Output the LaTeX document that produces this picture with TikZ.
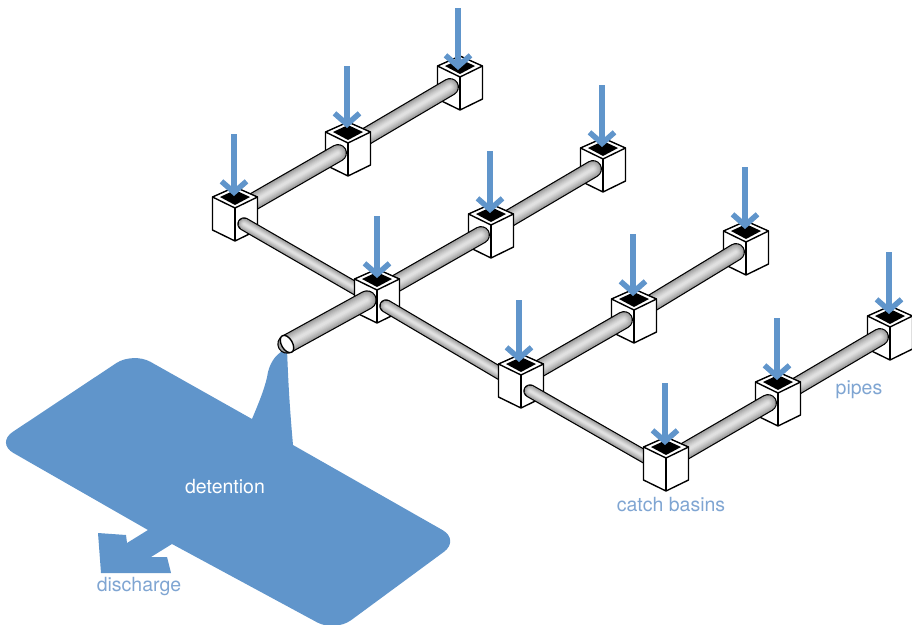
\documentclass[tikz,border=0pt]{standalone}
\usepackage{fontspec}
\setmainfont{TeX Gyre Heros}
\usepackage{xcolor}
\usetikzlibrary{arrows.meta,calc}
\definecolor{poolblue}{HTML}{6095CB}
\definecolor{labelblue}{HTML}{7FA5D2}
\tikzset{
  rim/.style={black,line width=1.4pt,line join=round},
  inflow/.style={poolblue,line width=6.5pt,-{Straight Barb[length=11pt,width=25pt,line width=5.5pt]}},
  caption/.style={labelblue,font=\fontsize{19.5}{22}\selectfont,inner sep=0pt},
}
% one catch basin, #1 is the middle of its top face
\newcommand{\basin}[1]{
  \fill [white] ($(#1)+(-22.5,0)$) -- ($(#1)+(0,-10)$) -- ($(#1)+(22.5,0)$) -- ($(#1)+(22.5,33)$) -- ($(#1)+(0,44)$) -- ($(#1)+(-22.5,33)$) -- cycle;
  \draw [rim] ($(#1)+(-22.5,0)$) -- ($(#1)+(0,-10)$) -- ($(#1)+(22.5,0)$) -- ($(#1)+(22.5,33)$) -- ($(#1)+(0,44)$) -- ($(#1)+(-22.5,33)$) -- cycle;
  \draw [rim] ($(#1)+(-22.5,0)$) -- ($(#1)+(0,11)$) -- ($(#1)+(22.5,0)$);
  \draw [rim] ($(#1)+(0,11)$) -- ($(#1)+(0,44)$);
  \fill [black] ($(#1)+(-15,0)$) -- ($(#1)+(0,-7)$) -- ($(#1)+(15,0)$) -- ($(#1)+(0,8)$) -- cycle;
}
% one pipe from #1 to #2, #3 is its width
\newcommand{\pipe}[3]{
  \draw [line cap=round,black,line width=#3pt+2.4pt] (#1) -- (#2);
  \foreach \k/\g in {0/38,1/33,2/29,3/25,4/21,5/18,6/15,7/12}{
    \draw [line cap=round,black!\g,line width=#3pt*(1-\k*0.12),yshift=\k*0.16pt] (#1) -- (#2);
  }
}
\begin{document}
\begin{tikzpicture}[x=1pt,y=-1pt]
  \useasboundingbox (0,0) rectangle (912,624);
  % detention
  \fill [poolblue] (148,530) [rounded corners=20pt] -- (-4,443) -- (133,352) [sharp corners] -- (252,419)
    .. controls (260,400) and (266,385) .. (268,372) .. controls (271,360) and (278,352) .. (287,349)
    .. controls (288,375) and (289,400) .. (293,445) [rounded corners=20pt] -- (460,540) -- (335,632) [sharp corners] -- (172,544)
    -- (151,557) -- (167,557) -- (171,573) -- (101,573) -- (98,533) -- (126,535) -- (127,543) -- cycle;
  \coordinate (a1) at (235,197);
  \coordinate (a2) at (348,132);
  \coordinate (a3) at (460,66);
  \coordinate (b1) at (377,279);
  \coordinate (b2) at (491,214);
  \coordinate (b3) at (603,148);
  \coordinate (c1) at (521,364);
  \coordinate (c2) at (634,299);
  \coordinate (c3) at (746,231);
  \coordinate (d1) at (666,447);
  \coordinate (d2) at (778,382);
  \coordinate (d3) at (890,316);
  % pipe ends on the faces of the basins
  \foreach \n in {a1,a2,a3,b1,b2,b3,c1,c2,c3,d1,d2,d3}{
    \coordinate (\n w) at ($(\n)+(-10,21)$);
    \coordinate (\n e) at ($(\n)+(9,27)$);
  }
  \coordinate (outlet) at (287,344);
  % back to front
  \basin{a3}
  \pipe{a2w}{a3w}{15.5}
  \basin{a2}
  \pipe{a1w}{a2w}{15.5}
  \basin{a1}
  \pipe{a1e}{b1e}{11}
  \basin{b3}
  \pipe{b2w}{b3w}{15.5}
  \basin{b2}
  \pipe{b1w}{b2w}{15.5}
  \basin{b1}
  \pipe{b1e}{c1e}{11}
  \pipe{outlet}{b1w}{17}
  \draw [rim,fill=white,rotate around={-60:(outlet)}] (outlet) ellipse (9.5 and 5.5);
  \basin{c3}
  \pipe{c2w}{c3w}{15.5}
  \basin{c2}
  \pipe{c1w}{c2w}{15.5}
  \basin{c1}
  \pipe{c1e}{d1e}{11}
  \basin{d3}
  \pipe{d2w}{d3w}{15.5}
  \basin{d2}
  \pipe{d1w}{d2w}{15.5}
  \basin{d1}
  % inflow, the numbers are where the arrow starts
  \foreach \n/\x/\y in {a1/234/134,a2/347/66,a3/458/8,b1/377/216,b2/490/151,b3/602/85,c1/519/300,c2/633/234,c3/745/167,d1/665/383,d2/777/318,d3/889/252}{
    \coordinate (\n top) at (\x,\y);
    \coordinate (\n tip) at (\x,\y+62);
    \draw [inflow] (\n top) -- (\n tip);
  }
  \node [caption,white] (detention) at (225,487) {detention};
  \node [caption] (discharge) at (139,587) {discharge};
  \node [caption] (catchbasins) at (671,505) {catch basins};
  \node [caption] (pipes) at (859,390) {pipes};
\end{tikzpicture}
\end{document}
